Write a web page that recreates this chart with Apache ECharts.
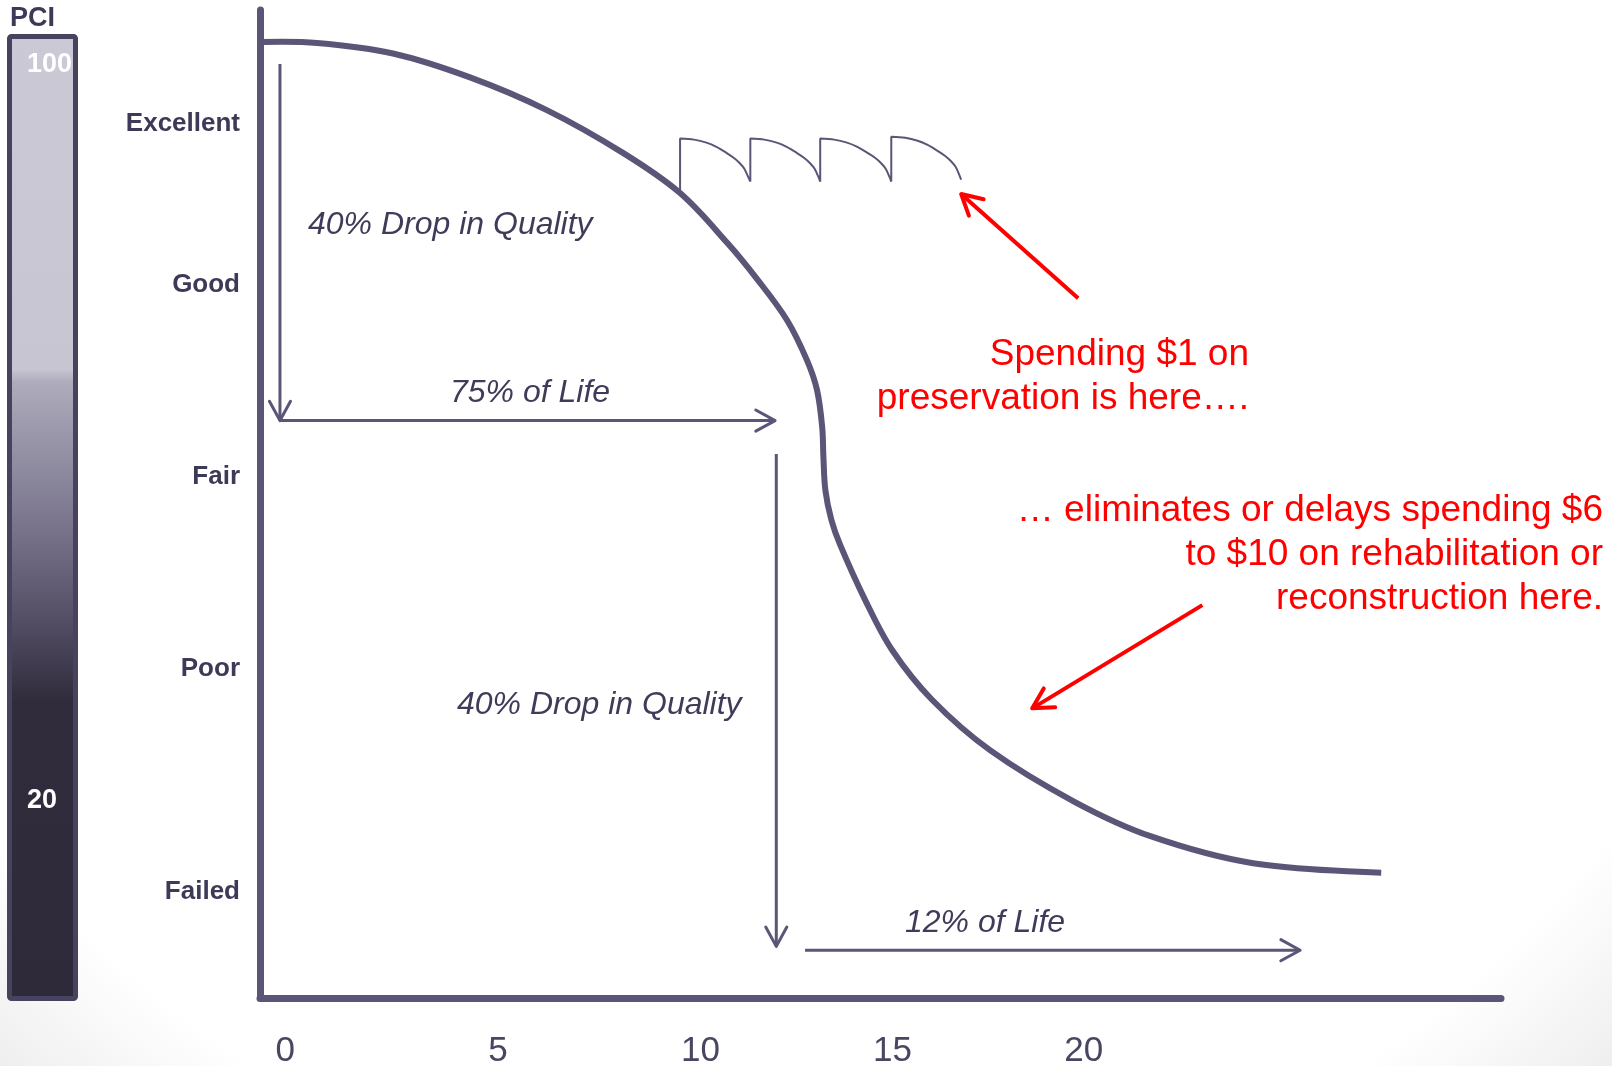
<!DOCTYPE html>
<html>
<head>
<meta charset="utf-8">
<title>Pavement condition vs. age</title>
<script src="https://cdn.jsdelivr.net/npm/echarts@6/dist/echarts.min.js"></script>
<style>
  html, body { margin: 0; padding: 0; background: #fff; }
  #chart { width: 1612px; height: 1066px; }
</style>
</head>
<body>
<div id="chart"></div>
<script>
// deterioration curve: age (years) -> PCI
const curveAge = [-0.58, 0.80, 2.70, 4.63, 6.54, 8.46, 9.89, 11.07, 11.82, 12.57, 13.07, 13.32, 13.45,
  13.48, 13.53, 13.68, 13.90, 14.53, 15.20, 16.20, 17.66, 19.78, 21.69, 24.24, 27.45];
const curvePci = [100.0, 99.9, 98.8, 96.3, 92.9, 88.4, 84.2, 79.0, 75.2, 70.9, 66.7, 63.6, 59.7,
  56.6, 53.1, 50.0, 47.4, 41.6, 36.4, 31.2, 25.9, 20.5, 16.9, 14.1, 13.1];

// preservation treatments (the little scallops)
const treatmentAge = [9.89, 9.89, 10.24, 10.55, 10.80, 11.05, 11.24, 11.38, 11.50, 11.59, 11.65,
  11.65, 12.00, 12.31, 12.56, 12.81, 13.00, 13.14, 13.26, 13.35, 13.40,
  13.40, 13.75, 14.07, 14.33, 14.58, 14.78, 14.92, 15.04, 15.13, 15.18,
  15.18, 15.53, 15.84, 16.09, 16.34, 16.53, 16.67, 16.79, 16.88, 16.93];
const treatmentPci = [84.2, 89.9, 89.79, 89.48, 89.04, 88.41, 87.87, 87.35, 86.75, 85.94, 85.4,
  89.9, 89.79, 89.48, 89.04, 88.41, 87.87, 87.35, 86.75, 85.94, 85.4,
  89.9, 89.79, 89.48, 89.04, 88.41, 87.87, 87.35, 86.75, 85.94, 85.4,
  90.1, 89.99, 89.68, 89.24, 88.61, 88.07, 87.55, 86.95, 86.14, 85.6];

// axis labels (the slide's year labels are not evenly spaced)
const xTickPos = [0, 5.33, 10.40, 15.21, 20];
const xTickText = ['0', '5', '10', '15', '20'];
const conditionNames = ['Failed', 'Poor', 'Fair', 'Good', 'Excellent'];
const conditionPci = [11.1, 34.4, 54.5, 74.6, 91.4];

// PCI scale bar
const pciScaleMin = -1.74;
const pciScaleTop = [103.37];
const pciScaleTicks = [20, 100];

// arrows [fromAge, fromPci, toAge, toPci]
const lifeArrows = [
  [-0.13, 97.7, -0.13, 60.4],
  [-0.13, 60.4, 12.27, 60.4],
  [12.30, 56.9, 12.30, 5.4],
  [13.02, 5.0, 25.42, 5.0]
];
const costArrows = [
  [19.86, 73.2, 16.93, 84.1],
  [22.97, 41.1, 18.71, 30.3]
];

const purple = '#5b5577';
const labelColor = '#3d3a58';
const font = 'Liberation Sans, Arial, sans-serif';

const chart = echarts.init(document.getElementById('chart'));

// open chevron arrow drawn in pixel space from the axis coords
function arrowRenderer(color, width, head) {
  return function (params, api) {
    const a = api.coord([api.value(0), api.value(1)]);
    const b = api.coord([api.value(2), api.value(3)]);
    const ang = Math.atan2(b[1] - a[1], b[0] - a[0]);
    const arm = (d) => [b[0] - head * Math.cos(ang + d), b[1] - head * Math.sin(ang + d)];
    return {
      type: 'group',
      children: [
        { type: 'line', shape: { x1: a[0], y1: a[1], x2: b[0], y2: b[1] },
          style: { stroke: color, lineWidth: width } },
        { type: 'polyline', shape: { points: [arm(0.5), b, arm(-0.5)] },
          style: { stroke: color, lineWidth: width, fill: null, lineCap: 'round', lineJoin: 'round' } }
      ]
    };
  };
}

// whole curve as one smooth path (line series clamps its control points and kinks here)
function curveRenderer(params, api) {
  if (params.dataIndexInside !== 0) return null;
  const pts = [];
  for (let i = 0; i < params.dataInsideLength; i++) {
    pts.push(api.coord([api.value(0, i), api.value(1, i)]));
  }
  return {
    type: 'polyline',
    shape: { points: pts, smooth: 0.35 },
    style: { stroke: purple, lineWidth: 6, fill: null }
  };
}

function textEl(text, x, y, style) {
  return {
    type: 'text', x: x, y: y, z: 100,
    style: Object.assign({ text: text, fontFamily: font, verticalAlign: 'middle' }, style)
  };
}

const italic = { fontSize: 32, fontStyle: 'italic', fill: '#3f3c5a', align: 'left' };
const red = { fontSize: 37, fill: '#ff0000', align: 'right', verticalAlign: 'top', lineHeight: 44 };

chart.setOption({
  animation: false,
  backgroundColor: {
    type: 'radial', x: 0.5, y: 0.19, r: 1.2,
    colorStops: [
      { offset: 0, color: '#ffffff' },
      { offset: 0.8, color: '#ffffff' },
      { offset: 1, color: '#e4e4e4' }
    ]
  },
  textStyle: { fontFamily: font },
  grid: [
    { left: 260, right: 111, top: 10, bottom: 68, outerBoundsMode: 'none' },
    { left: 7, top: 34, width: 71, bottom: 65, outerBoundsMode: 'none' }
  ],
  xAxis: [
    {
      type: 'value', gridIndex: 0, min: -0.63, max: 30.45,
      axisLine: { onZero: false, lineStyle: { color: purple, width: 7 } },
      axisTick: { show: false },
      splitLine: { show: false },
      axisLabel: {
        customValues: xTickPos, margin: 36, fontSize: 35, color: '#4a4662',
        formatter: (v) => xTickText[xTickPos.indexOf(v)]
      }
    },
    { type: 'category', gridIndex: 1, data: ['PCI'], show: false }
  ],
  yAxis: [
    {
      type: 'value', gridIndex: 0, min: 0, max: 103.35,
      axisLine: { onZero: false, lineStyle: { color: purple, width: 7 } },
      axisTick: { show: false },
      splitLine: { show: false },
      axisLabel: {
        customValues: conditionPci, margin: 20, fontSize: 26, fontWeight: 'bold', color: labelColor,
        formatter: (v) => conditionNames[conditionPci.indexOf(v)]
      }
    },
    {
      type: 'value', gridIndex: 1, min: pciScaleMin, max: pciScaleTop[0], startValue: pciScaleMin, z: 10,
      name: 'PCI', nameLocation: 'end', nameGap: 2,
      nameTextStyle: { align: 'left', fontSize: 27, fontWeight: 'bold', color: labelColor, padding: [0, 0, 0, 3] },
      axisLine: { show: false },
      axisTick: { show: false },
      splitLine: { show: false },
      axisLabel: { inside: true, customValues: pciScaleTicks, margin: 20, fontSize: 27, fontWeight: 'bold', color: '#ffffff' }
    }
  ],
  series: [
    {
      type: 'bar', xAxisIndex: 1, yAxisIndex: 1, barWidth: '100%', silent: true,
      data: pciScaleTop,
      itemStyle: {
        borderColor: '#47425e', borderWidth: 5, borderRadius: 2,
        color: {
          type: 'linear', x: 0, y: 0, x2: 0, y2: 1,
          colorStops: [
            { offset: 0, color: '#cbc9d5' },
            { offset: 0.347, color: '#c7c5d1' },
            { offset: 0.36, color: '#aeabbc' },
            { offset: 0.515, color: '#77728a' },
            { offset: 0.61, color: '#524d63' },
            { offset: 0.69, color: '#302c3c' },
            { offset: 1, color: '#2e2a3a' }
          ]
        }
      }
    },
    {
      type: 'custom', name: 'Deterioration', clip: false, silent: true,
      encode: { x: 0, y: 1 },
      data: curveAge.map((a, i) => [a, curvePci[i]]),
      renderItem: curveRenderer
    },
    {
      type: 'line', name: 'Preservation', symbol: 'none', smooth: 0.3,
      data: treatmentAge.map((a, i) => [a, treatmentPci[i]]),
      lineStyle: { color: purple, width: 2 }
    },
    {
      type: 'custom', clip: false, silent: true,
      encode: { x: [0, 2], y: [1, 3] },
      data: lifeArrows,
      renderItem: arrowRenderer(purple, 3, 22)
    },
    {
      type: 'custom', clip: false, silent: true,
      encode: { x: [0, 2], y: [1, 3] },
      data: costArrows,
      renderItem: arrowRenderer('#ff0000', 4, 23)
    }
  ],
  graphic: [
    textEl('40% Drop in Quality', 308, 225, italic),
    textEl('75% of Life', 450, 393, italic),
    textEl('40% Drop in Quality', 457, 705, italic),
    textEl('12% of Life', 905, 923, italic),
    textEl('Spending $1 on\npreservation is here….', 1249, 333, red),
    textEl('… eliminates or delays spending $6\nto $10 on rehabilitation or\nreconstruction here.', 1603, 489, red)
  ]
});
</script>
</body>
</html>
